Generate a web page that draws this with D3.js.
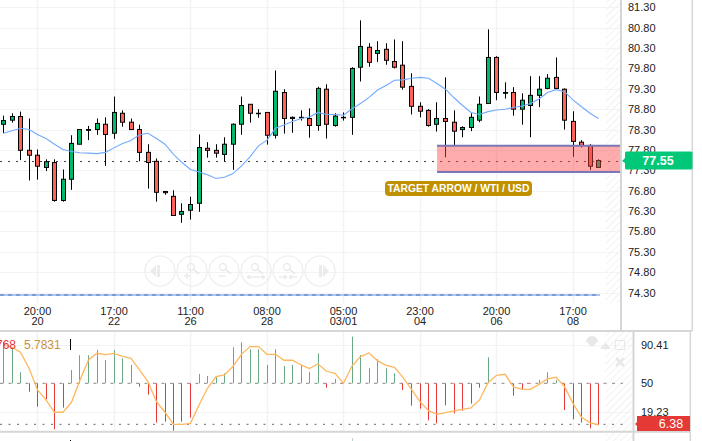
<!DOCTYPE html>
<html><head><meta charset="utf-8">
<script src="https://cdnjs.cloudflare.com/ajax/libs/d3/7.8.5/d3.min.js"></script>
<style>html,body{margin:0;padding:0;background:#fff;overflow:hidden}svg{display:block}text{font-family:"Liberation Sans",Arial,sans-serif}</style>
</head><body><svg id="c" width="702" height="441"></svg>
<script>
const candles=[[78.43,78.64,78.21,78.52],[78.53,78.70,78.47,78.62],[78.62,78.74,77.55,77.79],[77.79,78.57,77.05,77.67],[77.67,77.81,77.07,77.40],[77.37,77.57,77.28,77.51],[77.49,77.57,76.53,76.56],[76.56,77.32,76.53,77.08],[77.08,78.16,76.82,77.96],[77.94,78.30,77.94,78.30],[78.28,78.39,78.04,78.30],[78.30,78.57,78.17,78.45],[78.43,78.60,77.41,78.18],[78.21,79.11,78.07,78.72],[78.70,78.77,78.37,78.48],[78.48,78.57,78.30,78.30],[78.30,78.42,77.52,77.74],[77.74,77.94,76.85,77.49],[77.52,77.59,76.53,76.76],[76.78,76.79,76.70,76.75],[76.66,76.81,76.19,76.19],[76.22,76.49,76.01,76.29],[76.32,76.65,76.09,76.46],[76.49,78.18,76.28,77.86],[77.84,77.99,77.61,77.79],[77.79,77.94,77.61,77.72],[77.69,78.11,77.52,77.94],[77.94,78.45,77.31,78.43],[78.43,79.11,78.17,78.89],[78.92,78.92,78.47,78.70],[78.70,78.80,78.59,78.70],[78.72,78.72,77.93,78.16],[78.16,79.75,78.08,79.24],[79.21,79.29,78.20,78.57],[78.57,78.62,78.22,78.60],[78.60,78.77,78.52,78.60],[78.57,78.82,78.10,78.40],[78.40,79.35,78.27,79.31],[79.29,79.41,78.08,78.43],[78.40,78.70,78.37,78.63],[78.60,78.72,78.52,78.60],[78.60,79.83,78.17,79.80],[79.83,80.98,79.48,80.34],[80.32,80.42,79.84,79.95],[80.17,80.47,79.96,80.24],[80.27,80.42,79.89,80.00],[79.97,80.51,79.80,79.83],[79.88,80.47,79.28,79.34],[79.36,79.68,78.67,78.87],[78.87,78.97,78.60,78.75],[78.77,78.80,78.37,78.40],[78.43,78.97,78.25,78.57],[78.57,79.58,77.62,78.50],[78.48,78.77,77.91,78.26],[78.30,78.38,78.11,78.35],[78.35,78.70,78.26,78.60],[78.53,79.11,78.48,78.92],[78.94,80.76,78.94,80.07],[80.07,80.10,79.02,79.21],[79.19,79.46,79.06,79.21],[79.21,79.34,78.64,78.80],[78.80,79.19,78.42,79.02],[78.89,79.61,78.11,79.14],[79.14,79.61,78.85,79.29],[79.31,79.66,79.29,79.56],[79.58,80.07,79.29,79.31],[79.29,79.31,78.30,78.53],[78.50,78.75,77.63,78.01],[77.99,78.04,77.86,77.91],[77.91,77.94,77.31,77.40],[77.37,77.57,77.37,77.54]];
const maValues=[78.21,78.27,78.33,78.30,78.18,78.08,77.94,77.81,77.76,77.73,77.72,77.71,77.74,77.85,77.96,78.03,78.17,78.21,78.08,77.94,77.69,77.49,77.32,77.26,77.19,77.10,77.13,77.22,77.41,77.63,77.90,78.04,78.33,78.41,78.50,78.57,78.61,78.72,78.67,78.67,78.65,78.81,78.94,79.09,79.27,79.38,79.51,79.52,79.56,79.58,79.56,79.43,79.29,79.08,78.89,78.72,78.67,78.74,78.78,78.80,78.84,78.88,78.94,79.05,79.21,79.28,79.23,79.03,78.86,78.70,78.57];
const histValues=[94.3,87.2,61.7,41.1,25.2,33.0,1.1,24.1,64.2,79.8,79.8,85.5,74.8,85.5,76.6,69.5,46.5,37.9,8.2,9.2,-0.4,9.2,13.5,59.9,57.8,56.4,60.6,88.3,93.6,86.2,86.2,69.5,86.2,68.4,69.5,69.5,62.1,81.9,45.4,54.6,50.7,99.6,80.1,66.0,75.5,66.0,60.6,42.9,26.2,23.1,10.6,7.4,26.6,18.1,20.9,28.4,45.4,77.7,50,50,36.9,44.0,49.3,53.5,61.7,53.5,21.6,11.7,8.2,2.1,5.7];
const oscValues=[90.8,88.3,83.0,66.0,42.9,32.3,19.2,19.2,29.8,53.5,74.8,81.9,80.5,81.9,78.7,76.6,64.2,51.8,30.5,19.2,6.4,6.4,7.4,27.0,44.7,57.1,58.9,68.1,80.8,89.0,89.0,80.8,80.8,74.5,74.5,69.5,65.6,70.6,62.8,60.6,50,68.4,78.4,82.3,74.1,69.1,67.0,56.4,43.6,30.5,20.9,17.0,18.8,20.6,22.3,23.8,32.3,50.7,58.5,59.6,46.1,43.6,43.6,48.9,54.6,56.4,46.5,28.7,13.8,8.2,5.7];
const priceTicks=[81.3,80.8,80.3,79.8,79.3,78.8,78.3,77.8,77.3,76.8,76.3,75.8,75.3,74.8,74.3];
const oscTicks=[90.41,50,19.23];
const timeIdx=[4,13,22,31,40,49,58,67];
const timeLabels=["20:00","17:00","11:00","08:00","05:00","23:00","20:00","17:00"];
const dateLabels=["20","22","26","28","03/01","04","06","08"];
const lastPrice=77.55, lastOsc=6.38, zoneTop=77.90, zoneBottom=77.26, lowLine=74.24;
const annotation="TARGET ARROW / WTI / USD";
const navButtons=["prev","in","out","wide","narrow","next"];

const svg=d3.select("#c");
const defs=svg.append("defs");
const pat=defs.append("pattern").attr("id","hatch").attr("width",5).attr("height",5).attr("patternUnits","userSpaceOnUse").attr("patternTransform","rotate(45)");
pat.append("line").attr("x1",0).attr("y1",0).attr("x2",0).attr("y2",5).attr("stroke","#f2f2f2").attr("stroke-width",2);
defs.append("clipPath").attr("id","topClip").append("rect").attr("width",621).attr("height",330);
defs.append("clipPath").attr("id","botClip").append("rect").attr("y",332).attr("width",633).attr("height",99);

const xs=d3.scaleLinear().domain([0,70]).range([3.5,598.5]);
const px=i=>Math.floor(xs(i))+.5;
const ys=d3.scaleLinear().domain([81.3,74.3]).range([7.33,292.5]);
const yo=d3.scaleLinear().domain([50,90.41]).range([383.3,345.3]);
const GREEN="#00b96b",RED="#ff6357",GRID="#f3f3f3",BORDER="#d6d6d6";

svg.append("rect").attr("x",606).attr("y",0).attr("width",15).attr("height",303).attr("fill","url(#hatch)");
svg.append("rect").attr("x",605).attr("y",332).attr("width",28).attr("height",99).attr("fill","url(#hatch)");
svg.append("rect").attr("x",605).attr("y",433).attr("width",28).attr("height",8).attr("fill","url(#hatch)");

const topG=svg.append("g").attr("clip-path","url(#topClip)");
topG.selectAll(".gh").data(priceTicks).join("line").attr("x1",0).attr("x2",621).attr("y1",d=>Math.round(ys(d))+.5).attr("y2",d=>Math.round(ys(d))+.5).attr("stroke",GRID);
topG.selectAll(".gv").data(timeIdx).join("line").attr("x1",d=>px(d)).attr("x2",d=>px(d)).attr("y1",0).attr("y2",303).attr("stroke",GRID).attr("stroke-width",1.5);

topG.append("line").attr("x1",0).attr("x2",600).attr("y1",ys(lowLine)).attr("y2",ys(lowLine)).attr("stroke","#a9c6f5").attr("stroke-width",2);
topG.append("line").attr("x1",0).attr("x2",600).attr("y1",ys(lowLine)).attr("y2",ys(lowLine)).attr("stroke","#7d9ccf").attr("stroke-width",2).attr("stroke-dasharray","4,4");

const nav=svg.append("g").selectAll("g").data(navButtons).join("g").attr("transform",(d,i)=>`translate(${160+i*32},271)`);
nav.append("circle").attr("r",15).attr("fill","none").attr("stroke","#ececec").attr("stroke-width",1.2);
nav.each(function(d){
  const g=d3.select(this),c="#ebebeb";
  if(d==="prev"){g.append("path").attr("d","M-4,-6V6L-10,0Z M-3,-6H0V6H-3Z").attr("fill",c);}
  else if(d==="next"){g.append("path").attr("d","M3,-6V6L9,0Z M-1,-6H2V6H-1Z").attr("fill",c);}
  else{
    g.append("circle").attr("cx",-1).attr("cy",-4).attr("r",3.5).attr("fill","none").attr("stroke",c).attr("stroke-width",1.4);
    g.append("line").attr("x1",2).attr("y1",-1).attr("x2",7).attr("y2",3).attr("stroke",c).attr("stroke-width",1.8);
    const m={in:"M-8,5H-2M-5,2V8",out:"M-5,5H2",wide:"M-9,6H9M-9,6l3,-2M-9,6l3,2M9,6l-3,-2M9,6l-3,2",narrow:"M-9,6H-1M1,6H9M-1,6l-3,-2M-1,6l-3,2M1,6l3,-2M1,6l3,2"}[d];
    g.append("path").attr("d",m).attr("fill","none").attr("stroke",c).attr("stroke-width",1.5);
  }
});

const lastY=Math.floor(ys(lastPrice))+1.5;
topG.append("line").attr("x1",0).attr("x2",621).attr("y1",lastY).attr("y2",lastY).attr("stroke","#444").attr("stroke-dasharray","2,6");

const cg=topG.selectAll(".c").data(candles).join("g");
cg.append("line").attr("x1",(d,i)=>px(i)).attr("x2",(d,i)=>px(i)).attr("y1",d=>ys(d[1])).attr("y2",d=>ys(d[2])).attr("stroke","#000").attr("stroke-width",1);
cg.append("rect").attr("x",(d,i)=>px(i)-2).attr("width",4).attr("y",d=>ys(Math.max(d[0],d[3]))).attr("height",d=>Math.max(.5,Math.abs(ys(d[0])-ys(d[3])))).attr("fill",d=>d[3]>=d[0]?GREEN:RED).attr("stroke","#000").attr("stroke-width",1);

const maLine=d3.line().x((d,i)=>xs(i)).y(d=>ys(d));
topG.append("path").attr("d",maLine(maValues)).attr("fill","none").attr("stroke","#73aaff").attr("stroke-width",1.1);

topG.append("rect").attr("x",437).attr("width",184).attr("y",ys(zoneTop)).attr("height",ys(zoneBottom)-ys(zoneTop)).attr("fill","rgba(255,70,70,.45)");
[zoneTop,zoneBottom].forEach(v=>topG.append("line").attr("x1",437).attr("x2",621).attr("y1",ys(v)).attr("y2",ys(v)).attr("stroke","#7a76b8").attr("stroke-width",2));

svg.append("rect").attr("x",385).attr("y",181).attr("width",147).attr("height",15).attr("rx",4).attr("fill","#bf9000");
svg.append("text").attr("x",458.5).attr("y",192).attr("text-anchor","middle").attr("fill","#fff").attr("font-size",10.3).attr("font-weight","bold").text(annotation);

const pa=svg.append("g").attr("transform","translate(621,0)").call(d3.axisRight(ys).tickValues(priceTicks).tickSize(0).tickPadding(7).tickFormat(d3.format(".2f")));
pa.select(".domain").remove();
pa.selectAll("text").attr("font-size",11).attr("fill","#222").style("font-family",'"Liberation Sans"');

const ta=svg.append("g").selectAll("g").data(timeIdx).join("g");
ta.append("text").attr("x",d=>xs(d)).attr("y",315).attr("text-anchor","middle").attr("font-size",11).attr("fill","#222").text((d,i)=>timeLabels[i]);
ta.append("text").attr("x",d=>xs(d)).attr("y",325).attr("text-anchor","middle").attr("font-size",11).attr("fill","#222").text((d,i)=>dateLabels[i]);

const botG=svg.append("g").attr("clip-path","url(#botClip)");
botG.selectAll(".gv2").data(timeIdx).join("line").attr("x1",d=>px(d)).attr("x2",d=>px(d)).attr("y1",332).attr("y2",431).attr("stroke",GRID).attr("stroke-width",1.5);
oscTicks.filter(d=>d!==50).forEach(v=>botG.append("line").attr("x1",0).attr("x2",633).attr("y1",Math.round(yo(v))+.5).attr("y2",Math.round(yo(v))+.5).attr("stroke",GRID));
botG.append("line").attr("x1",0).attr("x2",623).attr("y1",yo(50)).attr("y2",yo(50)).attr("stroke","#888").attr("stroke-dasharray","3,5.5");
botG.append("line").attr("x1",0).attr("x2",623).attr("y1",yo(lastOsc)).attr("y2",yo(lastOsc)).attr("stroke","#666").attr("stroke-dasharray","2,6.5");
botG.selectAll(".h").data(histValues).join("line").attr("x1",(d,i)=>px(i)).attr("x2",(d,i)=>px(i)).attr("y1",yo(50)).attr("y2",d=>yo(d)).attr("stroke",d=>d>=50?"#69a884":"#e53935").attr("stroke-width",1);
botG.append("path").attr("d",d3.line().x((d,i)=>xs(i)).y(d=>yo(d))(oscValues)).attr("fill","none").attr("stroke","#ffb75e").attr("stroke-width",1.3);

const oa=svg.append("g").attr("transform","translate(634,0)").call(d3.axisRight(yo).tickValues(oscTicks).tickSize(0).tickPadding(7).tickFormat(d=>d===50?"50":d3.format(".2f")(d)));
oa.select(".domain").remove();
oa.selectAll("text").attr("font-size",11).attr("fill","#222").style("font-family",'"Liberation Sans"');

svg.append("text").attr("x",16).attr("y",349).attr("text-anchor","end").attr("font-size",12).attr("fill","#e53935").text("768");
svg.append("text").attr("x",24).attr("y",349).attr("font-size",12).attr("fill","#c8923c").text("5.7831");
svg.append("line").attr("x1",70.5).attr("x2",70.5).attr("y1",339).attr("y2",350).attr("stroke","#000");
svg.append("line").attr("x1",70.5).attr("x2",70.5).attr("y1",440).attr("y2",441).attr("stroke","#000");
svg.append("line").attr("x1",352.5).attr("x2",352.5).attr("y1",438).attr("y2",441).attr("stroke","#bcd6c8");

const ic="#e8e8e8";
svg.append("path").attr("d","M587,342h10l-5,5.5z M586,342a2,2 0 0 1 12,0").attr("fill",ic);
svg.append("path").attr("d","M600,349l5,-6h1l5,6z").attr("fill",ic);
svg.append("rect").attr("x",615.5).attr("y",340.5).attr("width",9).attr("height",9).attr("fill","none").attr("stroke",ic);
svg.append("path").attr("d","M616,358l8,8M624,358l-8,8").attr("stroke",ic).attr("stroke-width",2.5);

const b=(a,c,d,e,w)=>svg.append("line").attr("x1",a).attr("y1",c).attr("x2",d).attr("y2",e).attr("stroke",BORDER).attr("stroke-width",w||1.5);
b(621,0,621,331,2); b(692.3,0,692.3,331,1.5); b(0,331,692,331,2); b(0,431.7,690,431.7,2); b(633.5,331,633.5,441,2); b(690.3,331,690.3,441,1.5);

svg.append("path").attr("d","M622,161l3,-3v-5a1.5,1.5 0 0 1 1.5,-1.5H691a1.5,1.5 0 0 1 1.5,1.5v15a1.5,1.5 0 0 1 -1.5,1.5H626.5a1.5,1.5 0 0 1 -1.5,-1.5v-5z").attr("fill","#00c878");
svg.append("text").attr("x",658).attr("y",165).attr("text-anchor","middle").attr("fill","#fff").attr("font-size",12.5).attr("font-weight","bold").text(d3.format(".2f")(lastPrice));
svg.append("path").attr("d","M635,424l2,-2v-6h53v15h-53v-5z").attr("fill","#e53935");
svg.append("text").attr("x",671).attr("y",428).attr("text-anchor","middle").attr("fill","#fff").attr("font-size",12.5).text(d3.format(".2f")(lastOsc));
</script></body></html>
